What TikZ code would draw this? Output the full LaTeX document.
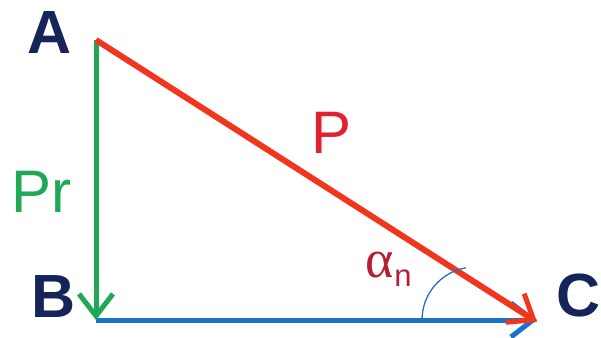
\documentclass[tikz,border=0pt]{standalone}
\usepackage{fontspec}
\setmainfont{Liberation Sans}
\newfontfamily\serifgreek{Liberation Serif}
\usetikzlibrary{arrows.meta}
\definecolor{navy}{HTML}{15255A}
\definecolor{vgreen}{HTML}{1FA855}
\definecolor{vred}{HTML}{F2361E}
\definecolor{tred}{HTML}{E3202E}
\definecolor{vblue}{HTML}{1B72C9}
\definecolor{adark}{HTML}{B51F35}
\tikzset{
  ptlabel/.style={font=\fontsize{61}{61}\selectfont\bfseries, text=navy, inner sep=0pt, anchor=base west},
  veclabel/.style={font=\fontsize{60}{60}\selectfont, inner sep=0pt, anchor=base west},
  vec/.style={line width=5pt, -{Straight Barb[length=22pt,width=34pt,line width=5pt]}},
}
\begin{document}
\begin{tikzpicture}[x=1pt,y=-1pt]
\useasboundingbox (0,0) rectangle (601,337);
\coordinate (A) at (96,40);
\coordinate (B) at (96,320);
\coordinate (C) at (537,320);
\coordinate (Cr) at (537,322);
\coordinate (arcS) at (422,320);
% vectors
\draw[vec, draw=vblue] (B) -- (C);
\draw[vec, draw=vgreen] (A) -- (B);
\draw[vec, draw=vred, line width=6pt] (A) -- (Cr);
% angle arc
\draw[vblue, line width=1.3pt] (arcS) arc[start angle=180, end angle=260, radius=53];
% labels
\node[ptlabel] (labA) at (27,53) {A};
\node[ptlabel] (labB) at (31,317) {B};
\node[ptlabel] (labC) at (556,316) {C};
\node[veclabel, text=tred] (labP) at (311,153) {P};
\node[veclabel, text=vgreen] (labPr) at (11,212) {Pr};
\node[inner sep=0pt, anchor=base west, text=adark] (labAlpha) at (365,277)
  {\fontsize{54}{54}\selectfont\serifgreek α\hspace{1pt}\fontsize{31}{31}\selectfont\rmfamily\raisebox{-9pt}{n}};
\end{tikzpicture}
\end{document}
